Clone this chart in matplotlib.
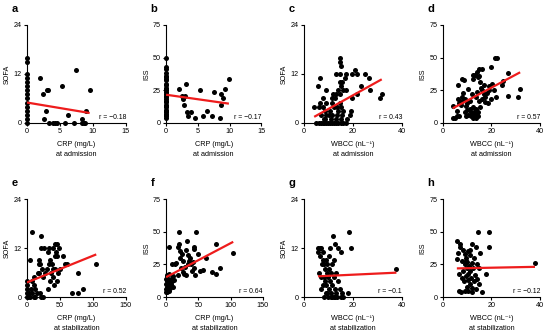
import numpy as np
import matplotlib
matplotlib.use("Agg")
import matplotlib.pyplot as plt

plt.rcParams['font.family'] = ['Liberation Sans', 'DejaVu Sans']

# a: SOFA vs CRP at admission
a_crp = [0]*15 + [2.0, 2.4, 2.6, 2.9, 3.0, 3.2, 3.3, 3.9, 4.2, 4.5, 5.3, 5.7, 6.2, 7.1, 7.4,
                  8.3, 8.3, 8.6, 8.8, 8.9, 9.5]
a_sofa = [0, 1, 2, 3, 4, 5, 6, 7, 8, 9, 10, 11, 12, 15, 16,
          11, 7, 1, 3, 8, 8, 0, 0, 0, 0, 9, 0, 2, 0, 13, 1, 0, 0, 0, 3, 8]

# b: ISS vs CRP at admission
b_crp = [0]*30 + [2.0, 2.5, 2.6, 3.0, 2.9, 3.2, 3.3, 3.4, 3.9, 4.6, 5.4, 5.8, 6.4, 7.3, 7.6,
                  8.5, 8.6, 8.7, 9.0, 9.3, 9.9]
b_iss = [4, 5, 6, 7, 8, 9, 10, 12, 13, 14, 16, 17, 18, 20, 21, 22, 24, 25, 26, 27, 29, 30,
         33, 34, 35, 36, 38, 41, 43, 50,
         26, 21, 18, 21, 14, 30, 8, 5, 8, 4, 25, 5, 9, 5, 24, 4, 22, 14, 19, 26, 34]

# c: SOFA vs WBCC at admission
c_wbcc = [5.0, 6.0, 6.8, 7.5, 8.2, 9.0, 9.8, 10.5, 11.2, 12.0, 13.0, 14.0, 15.0, 16.0, 17.0,
          8.0, 8.5, 11.0, 13.0, 15.0, 17.5,
          6.8, 9.0, 10.0, 11.5, 13.5, 15.5, 18.6,
          8.5, 10.5, 14.0, 16.0, 19.3,
          4.1, 6.0, 7.8, 12.0, 13.5, 15.0,
          6.4, 9.0, 11.5, 14.5,
          7.8, 11.2, 12.5, 19.7, 30.9,
          11.8, 13.0, 14.5, 21.6, 31.7,
          9.0, 13.9, 15.9, 17.3, 26.8,
          5.7, 15.2, 23.4,
          14.8, 15.6,
          6.4, 26.5, 16.6,
          13.2, 14.6, 17.0, 19.7, 21.6, 24.8,
          20.7, 15.2, 14.8, 14.8]
c_sofa = [0]*15 + [1]*6 + [2]*7 + [3]*5 + [4]*6 + [5]*4 + [6]*5 + [7]*5 + [8]*5 + [9]*3 + \
         [10]*2 + [11]*3 + [12]*6 + [13, 14, 15, 16]

# d: ISS vs WBCC at admission
d_wbcc = [4.1, 4.1, 5.1, 5.8, 6.2, 6.4, 6.8, 7.1, 7.8, 8.1, 8.9, 8.5, 9.0, 10.5, 9.5, 9.9,
          10.5, 11.2, 11.6, 12.6, 13.3, 14.0, 14.9, 16.3, 14.4, 15.3, 15.8, 16.3, 16.8, 17.4,
          18.1, 18.8, 19.9, 21.5, 22.2, 20.4, 21.2, 21.8, 24.2, 24.7, 26.7, 27.0, 30.8, 31.8,
          11.5, 12.0, 12.3, 12.8, 13.0, 13.3, 13.6, 14.0, 14.3, 14.6, 12.5, 13.8, 8.0, 7.5,
          6.5, 9.3, 10.0, 11.0, 13.5, 14.8, 15.5, 16.0, 17.5, 18.5, 19.0, 17.0, 14.0, 12.0,
          20.0, 9.5, 12.4, 15.0, 6.0]
d_iss = [13, 4, 4, 5, 18, 29, 5, 16, 20, 34, 33, 23, 18, 26, 13, 10,
         6, 11, 5, 37, 37, 39, 41, 41, 35, 31, 27, 25, 22, 20,
         23, 28, 43, 50, 50, 30, 25, 20, 29, 32, 38, 21, 20, 26,
         8, 6, 4, 5, 7, 9, 4, 6, 8, 5, 12, 11, 17, 14,
         15, 8, 15, 17, 20, 17, 12, 18, 16, 15, 25, 29, 24, 22,
         18, 5, 34, 36, 9]

# e: SOFA vs CRP at stabilization
e_crp = [0, 0, 0, 0, 0, 2, 3, 5, 5, 6, 7, 8, 8, 10, 10, 10, 12, 12, 15, 17, 18, 19, 19, 20,
         20, 21, 21, 22, 23, 24, 24, 26, 28, 30, 32, 32, 33, 34, 35, 35, 37, 38, 39, 39, 40,
         41, 42, 43, 43, 44, 45, 46, 46, 47, 49, 50, 54, 58, 61, 69, 78, 78, 85, 105]
e_sofa = [0, 1, 2, 3, 4, 0, 1, 0, 9, 2, 16, 1, 4, 0, 3, 5, 0, 2, 1, 6, 8, 9, 6, 1,
          8, 15, 0, 12, 7, 0, 5, 12, 6, 7, 2, 11, 8, 12, 4, 9, 6, 8, 12, 5, 7,
          3, 10, 7, 13, 11, 10, 4, 13, 6, 12, 7, 10, 8, 8, 1, 1, 6, 2, 8]

# f: ISS vs CRP at stabilization
f_crp = [0, 0, 0, 0, 1, 1, 2, 2, 3, 3, 4, 4, 5, 6, 6, 7, 8, 9, 10, 11, 12, 2, 5, 1,
         5, 8.6, 14, 16, 19, 20, 20.5, 21, 19, 23, 25, 26, 28, 33, 31.5, 34, 37, 29, 26.5,
         31.5, 34, 39, 42, 43, 44, 46, 43, 45, 49, 53, 57, 62, 71, 78, 78, 84, 104, 36, 40, 22]
f_iss = [4, 6, 10, 14, 5, 8, 4, 12, 6, 9, 5, 13, 8, 7, 11, 10, 14, 12, 8, 16, 13, 17, 18, 16,
         38, 25, 25, 26, 38, 41, 50, 35, 17, 22, 33, 28, 18, 43, 36, 32, 30, 23, 19,
         17, 25, 25, 27, 37, 38, 50, 22, 17, 33, 20, 21, 30, 19, 41, 18, 22, 34, 28, 20, 30]

# g: SOFA vs WBCC at stabilization
g_wbcc = [5.7, 6.4, 7.0, 5.7, 6.4, 6.0, 7.0, 7.5, 7.8, 8.0, 8.5, 8.2, 8.5, 8.0, 8.8, 9.0,
          9.2, 9.5, 9.8, 9.8, 10.0, 10.2, 10.5, 10.5, 10.8, 11.0, 11.0, 11.2, 11.5, 11.8,
          12.0, 12.0, 12.2, 12.7, 12.5, 13.0, 13.0, 13.5, 13.9, 14.0, 14.5, 15.0, 15.0, 15.5,
          16.0, 18.0, 18.4, 19.0, 37.7, 7.2, 9.0, 10.0, 6.8, 7.5, 9.5, 11.5, 12.8]
g_sofa = [12, 12, 12, 11, 10, 6, 2, 11, 9, 8, 7, 5, 4, 0, 1, 3,
          6, 8, 0, 5, 2, 7, 12, 4, 1, 0, 6, 8, 3, 15,
          0, 5, 9, 13, 2, 1, 6, 0, 12, 4, 2, 11, 0, 1,
          0, 1, 16, 12, 7, 8, 9, 10, 5, 3, 1, 0, 0]

# h: ISS vs WBCC at stabilization
h_wbcc = [5.8, 7.1, 6.4, 6.0, 7.1, 6.7, 6.8, 7.5, 8.0, 8.5, 8.0, 8.8, 9.0, 9.2, 9.5, 9.5,
          9.8, 10.0, 10.0, 10.2, 10.5, 10.5, 10.8, 11.0, 11.0, 11.2, 11.5, 11.9, 12.0, 12.0,
          12.5, 12.8, 13.0, 13.2, 13.6, 14.0, 14.2, 14.4, 14.7, 15.0, 15.3, 16.3, 17.7, 18.8,
          18.8, 37.9, 8.2, 9.0, 12.0, 13.5, 11.0, 10.3, 9.7]
h_iss = [43, 41, 34, 29, 38, 18, 5, 4, 28, 20, 15, 12, 33, 25, 30, 16,
         8, 22, 27, 18, 13, 5, 24, 32, 10, 20, 15, 41, 26, 7,
         22, 12, 30, 17, 38, 25, 14, 50, 10, 22, 34, 4, 18, 38,
         50, 26, 36, 5, 4, 6, 36, 35, 28]

# regression lines: (intercept, slope)
fits = {'a': (5.0, -0.27), 'b': (21.6, -0.69), 'c': (0.13, 0.333), 'd': (7.1, 0.996),
        'e': (3.6, 0.0654), 'f': (15.3, 0.26), 'g': (4.94, 0.028), 'h': (21.79, 0.037)}
r_text = {'a': 'r = \u22120.18', 'b': 'r = \u22120.17', 'c': 'r = 0.43', 'd': 'r = 0.57',
          'e': 'r = 0.52', 'f': 'r = 0.64', 'g': 'r = \u22120.1', 'h': 'r = \u22120.12'}

FS = 5.2


def panel(fig, rect, letter, x, y, xlabel, ylabel, xmax, xticks, ymax, yticks):
    ax = fig.add_axes(rect)
    ax.scatter(x, y, s=13, color='black', linewidths=0, clip_on=False, zorder=3)
    b0, b1 = fits[letter]
    xs = np.array([min(x), max(x)])
    ax.plot(xs, b0 + b1*xs, color='#ee1c1c', lw=1.6, zorder=4, solid_capstyle='butt')
    ax.set_xlim(0, xmax)
    ax.set_ylim(0, ymax)
    ax.set_xticks(xticks)
    ax.set_yticks(yticks)
    for s in ['top', 'right']:
        ax.spines[s].set_visible(False)
    for s in ['left', 'bottom']:
        ax.spines[s].set_linewidth(0.8)
    ax.tick_params(labelsize=FS, length=2.2, width=0.8, pad=1.5)
    ax.set_xlabel(xlabel, fontsize=FS, labelpad=4, linespacing=1.6)
    ax.set_ylabel(ylabel, fontsize=FS, labelpad=2)
    ax.text(1.0, 0.02, r_text[letter], transform=ax.transAxes, ha='right', va='bottom',
            fontsize=FS*0.95)
    fig.text(rect[0] - 0.028, rect[1] + rect[3] + 0.033, letter, fontsize=8,
             fontweight='bold', ha='left', va='bottom')
    return ax


def main():
    fig = plt.figure(figsize=(5.5, 3.35), dpi=100)
    top, bot, h = 0.633, 0.113, 0.2925
    wb = 'WBCC (nL\u207b\u00b9)'
    panel(fig, [0.049, top, 0.180, h], 'a', a_crp, a_sofa, 'CRP (mg/L)\nat admission', 'SOFA',
          15, [0, 5, 10, 15], 24, [0, 12, 24])
    panel(fig, [0.302, top, 0.173, h], 'b', b_crp, b_iss, 'CRP (mg/L)\nat admission', 'ISS',
          15, [0, 5, 10, 15], 75, [0, 25, 50, 75])
    panel(fig, [0.553, top, 0.178, h], 'c', c_wbcc, c_sofa, wb + '\nat admission', 'SOFA',
          40, [0, 20, 40], 24, [0, 12, 24])
    panel(fig, [0.805, top, 0.177, h], 'd', d_wbcc, d_iss, wb + '\nat admission', 'ISS',
          40, [0, 20, 40], 75, [0, 25, 50, 75])
    panel(fig, [0.049, bot, 0.180, h], 'e', e_crp, e_sofa, 'CRP (mg/L)\nat stabilization', 'SOFA',
          150, [0, 50, 100, 150], 24, [0, 12, 24])
    panel(fig, [0.302, bot, 0.176, h], 'f', f_crp, f_iss, 'CRP (mg/L)\nat stabilization', 'ISS',
          150, [0, 50, 100, 150], 75, [0, 25, 50, 75])
    panel(fig, [0.553, bot, 0.178, h], 'g', g_wbcc, g_sofa, wb + '\nat stabilization', 'SOFA',
          40, [0, 20, 40], 24, [0, 12, 24])
    panel(fig, [0.805, bot, 0.177, h], 'h', h_wbcc, h_iss, wb + '\nat stabilization', 'ISS',
          40, [0, 20, 40], 75, [0, 25, 50, 75])
    fig.savefig('out.png', dpi=100)


if __name__ == "__main__":
    main()
